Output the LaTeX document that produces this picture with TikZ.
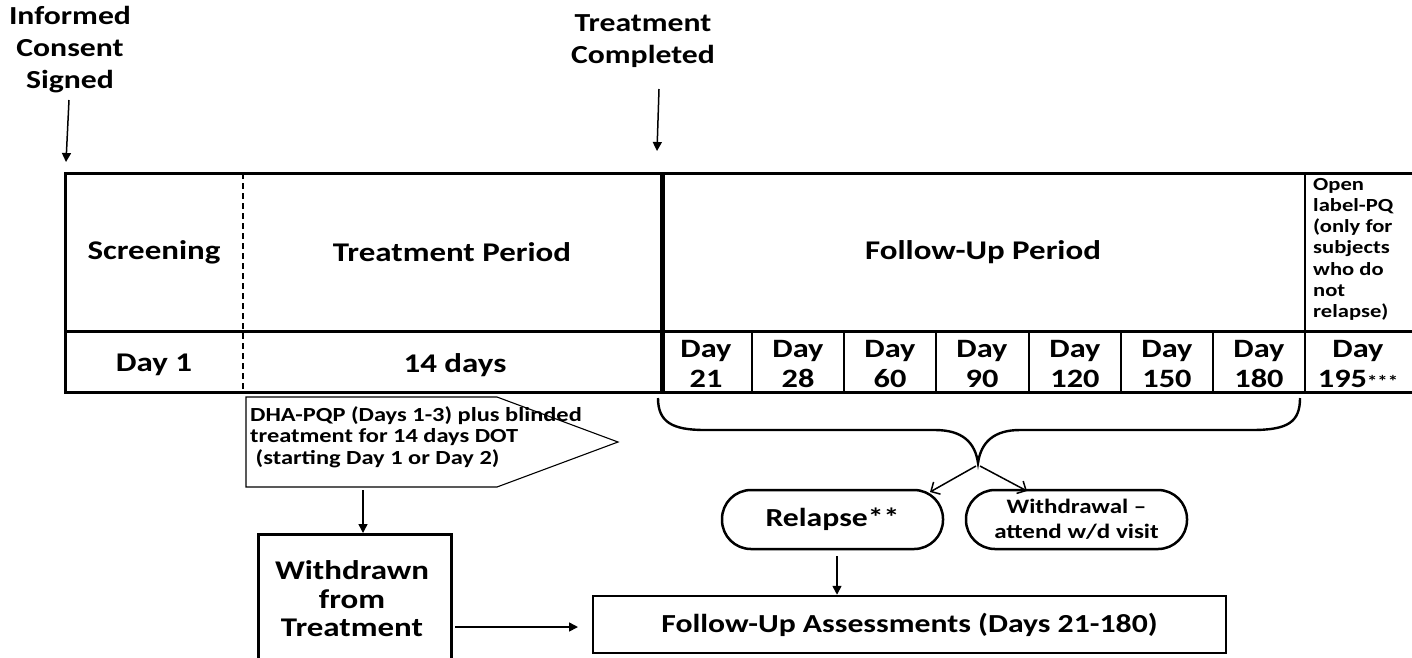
\documentclass[tikz,border=0pt]{standalone}
\usepackage{fontspec}
\setmainfont{Carlito}[FakeStretch=1.22]
\usetikzlibrary{arrows.meta}
\tikzset{
  toplbl/.style={font=\bfseries\fontsize{26}{32}\selectfont, align=center, inner sep=0pt},
  lbl/.style={font=\bfseries\fontsize{27}{32}\selectfont, align=center, inner sep=0pt},
  daylbl/.style={font=\bfseries\fontsize{26.5}{30}\selectfont, align=center, inner sep=0pt},
  smalllbl/.style={font=\bfseries\fontsize{18.5}{21.2}\selectfont, align=left, inner sep=0pt},
  pentlbl/.style={font=\bfseries\fontsize{20}{21.7}\selectfont, align=left, inner sep=0pt},
  tbl/.style={line width=3pt},
  colline/.style={line width=2.6pt},
  thickline/.style={line width=5pt},
  arr/.style={line width=1.5pt, -{Triangle[length=9pt,width=9pt]}},
  barb/.style={line width=1.5pt, -{Straight Barb[length=7pt,width=14pt]}},
  roundbox/.style={draw, line width=2.5pt, rounded corners=29pt, minimum width=221pt, minimum height=59pt, inner sep=0pt, align=center},
}
\begin{document}
\begin{tikzpicture}[x=1pt,y=-1pt]
\useasboundingbox (0,0) rectangle (1412,657);
% top labels
\node[toplbl] (ics) at (70,50) {Informed\\Consent\\Signed};
\coordinate (icsA) at (69,100);
\coordinate (icsB) at (66,162);
\draw[arr] (icsA) -- (icsB);
\node[toplbl] (tc) at (643,41) {Treatment\\Completed};
\coordinate (tcA) at (659,89);
\coordinate (tcB) at (657,151);
\draw[arr] (tcA) -- (tcB);
% table
\draw[tbl] (1413,173) -- (65,173) -- (65,392) -- (1413,392);
\draw[tbl] (65,331) -- (1413,331);
\draw[line width=1.2pt, dash pattern=on 6pt off 4pt] (243,173) -- (243,392);
\draw[thickline] (662,173) -- (662,392);
\foreach \x in {752,844,936,1029,1121,1213} \draw[colline] (\x,331) -- (\x,392);
\draw[colline] (1305,173) -- (1305,392);
\node[lbl] (scr) at (154,252) {Screening};
\node[lbl] (tp) at (452,252) {Treatment Period};
\node[lbl] (fup) at (983,252) {Follow-Up Period};
\node[smalllbl, anchor=north west] (ol) at (1313,178) {Open\\label-PQ\\(only for\\subjects\\who do\\not\\relapse)};
\node[lbl] (d1) at (154,365) {Day 1};
\node[lbl] (d14) at (455,365) {14 days};
\node[daylbl] (d21) at (706,364) {Day\\21};
\node[daylbl] (d28) at (798,364) {Day\\28};
\node[daylbl] (d60) at (890,364) {Day\\60};
\node[daylbl] (d90) at (982,364) {Day\\90};
\node[daylbl] (d120) at (1075,364) {Day\\120};
\node[daylbl] (d150) at (1167,364) {Day\\150};
\node[daylbl] (d180) at (1259,364) {Day\\180};
\node[daylbl] (d195) at (1358,364) {Day\\195{\fontsize{17}{20}\selectfont ***}};
% pentagon
\draw[line width=1.1pt] (246,397) -- (497,397) -- (618,442) -- (497,487) -- (246,487) -- cycle;
\node[pentlbl, anchor=west] (pent) at (250,437) {DHA-PQP (Days 1-3) plus blinded\\treatment for 14 days DOT\\\ (starting Day 1 or Day 2)};
% withdrawn box
\node[draw, line width=3pt, minimum width=193pt, minimum height=160pt, anchor=north, inner sep=0pt] (wd) at (355,533) {};
\node[font=\bfseries\fontsize{27}{28.5}\selectfont, align=center, inner sep=0pt] (wdt) at (352,599) {Withdrawn\\from\\Treatment};
\coordinate (pentB) at (363,490);
\draw[arr] (pentB) -- (wd.north -| pentB);
% follow-up assessments
\node[draw, line width=2.5pt, minimum width=633pt, minimum height=57pt, inner sep=0pt, font=\bfseries\fontsize{26}{30}\selectfont] (fua) at (909.5,624.5) {Follow-Up Assessments (Days 21-180)};
\coordinate (wdA) at (455,627);
\coordinate (fuaA) at (578,627);
\draw[arr] (wdA) -- (fuaA);
% brace
\coordinate (brL) at (658,398);
\coordinate (brR) at (1300,398);
\coordinate (brT) at (978,463);
\draw[line width=2.4pt] (brL) .. controls (658,422) and (672,430) .. (705,430) -- (935,430) .. controls (962,430) and (975,442) .. (brT) .. controls (981,442) and (994,430) .. (1020,430) -- (1252,430) .. controls (1288,430) and (1300,422) .. (brR);
% relapse / withdrawal
\node[roundbox, font=\bfseries\fontsize{26}{30}\selectfont] (rel) at (832.5,519.5) {Relapse**};
\node[roundbox, font=\bfseries\fontsize{20.5}{25}\selectfont] (wdr) at (1076.5,519.5) {Withdrawal --\\attend w/d visit};
\coordinate (brT1) at (976,466);
\coordinate (brT2) at (980,466);
\coordinate (relT) at (930,492);
\coordinate (wdrT) at (1027,491);
\draw[barb] (brT1) -- (relT);
\draw[barb] (brT2) -- (wdrT);
\coordinate (relB) at (837,556);
\draw[arr] (relB) -- (fua.north -| relB);
\end{tikzpicture}
\end{document}
